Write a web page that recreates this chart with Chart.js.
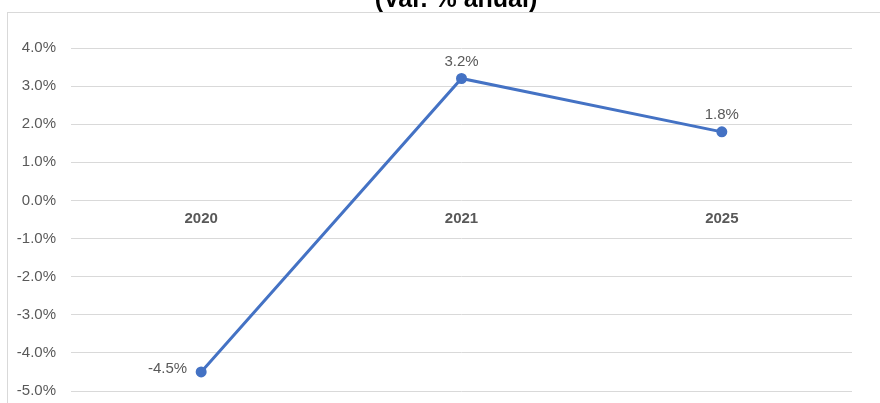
<!DOCTYPE html>
<html>
<head>
<meta charset="utf-8">
<script src="https://cdn.jsdelivr.net/npm/chart.js@4"></script>
<style>
    html, body { margin: 0; padding: 0; background: #fff; overflow: hidden; }
    #frame { position: absolute; left: 7px; top: 12px; width: 900px; height: 400px;
             border-left: 1px solid #d9d9d9; border-top: 1px solid #d9d9d9; }
    #wrap { position: absolute; left: 0; top: 0; width: 880px; height: 415px; }
</style>
</head>
<body>
<div id="frame"></div>
<div id="wrap"><canvas id="growth-chart"></canvas></div>
<script>
// Chart data
const years = ['2020', '2021', '2025'];
const growth = [-4.5, 3.2, 1.8];
const yTicks = [4, 3, 2, 1, 0, -1, -2, -3, -4, -5];
const titleText = '(Var. % anual)';

const textColor = '#595959';
const fontFamily = '"Liberation Sans", Arial, sans-serif';

// Title is cut off at the top edge, so draw it by hand
const topTitle = {
    id: 'topTitle',
    afterDraw(chart) {
        const ctx = chart.ctx;
        ctx.save();
        ctx.font = 'bold 25px ' + fontFamily;
        ctx.fillStyle = '#000';
        ctx.textAlign = 'center';
        ctx.textBaseline = 'alphabetic';
        ctx.fillText(titleText, 456, 7);
        ctx.restore();
    }
};

// Draw value labels next to each point
const valueLabels = {
    id: 'valueLabels',
    afterDatasetsDraw(chart) {
        const ctx = chart.ctx;
        const meta = chart.getDatasetMeta(0);
        ctx.save();
        ctx.font = '15px ' + fontFamily;
        ctx.fillStyle = textColor;
        ctx.textBaseline = 'middle';
        meta.data.forEach((pt, i) => {
            const txt = growth[i].toFixed(1) + '%';
            if (growth[i] < 0) {
                ctx.textAlign = 'right';
                ctx.fillText(txt, pt.x - 14, pt.y - 3);
            } else {
                ctx.textAlign = 'center';
                ctx.fillText(txt, pt.x, pt.y - 17);
            }
        });
        ctx.restore();
    }
};

const ctx = document.getElementById('growth-chart').getContext('2d');
new Chart(ctx, {
    type: 'line',
    data: {
        labels: years,
        datasets: [{
            data: growth,
            borderColor: '#4472C4',
            backgroundColor: '#4472C4',
            borderWidth: 3,
            pointRadius: 4,
            pointHoverRadius: 4,
            tension: 0
        }]
    },
    options: {
        responsive: true,
        maintainAspectRatio: false,
        animation: false,
        layout: { padding: { top: 48, right: 28, bottom: 0, left: 0 } },
        plugins: {
            legend: { display: false },
            tooltip: { enabled: false },
            title: { display: false }
        },
        scales: {
            x: {
                position: { y: 0 },
                offset: true,
                afterFit(axis) { axis.height = 0; },
                grid: { display: false },
                border: { display: false },
                ticks: {
                    color: textColor,
                    padding: 1,
                    font: { family: fontFamily, size: 15, weight: 'bold' }
                }
            },
            y: {
                min: -5,
                max: 4,
                afterBuildTicks(axis) {
                    axis.ticks = yTicks.map(v => ({ value: v }));
                },
                afterFit(axis) { axis.width = 71; },
                grid: { color: '#d9d9d9', lineWidth: 1, drawTicks: false },
                border: { display: false },
                ticks: {
                    color: textColor,
                    padding: 15,
                    font: { family: fontFamily, size: 15 },
                    callback: v => v.toFixed(1) + '%'
                }
            }
        }
    },
    plugins: [valueLabels, topTitle]
});
</script>
</body>
</html>
